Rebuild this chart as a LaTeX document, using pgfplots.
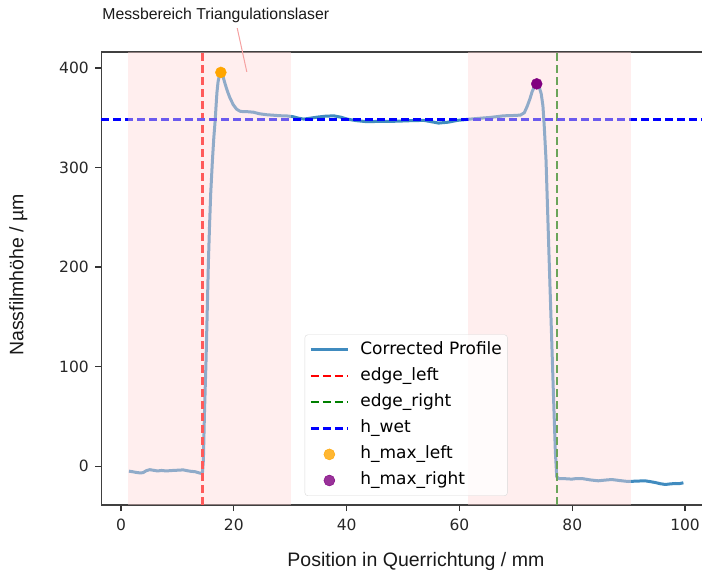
\documentclass[border=0pt]{standalone}
\usepackage{fontspec}
\setmainfont{Liberation Sans}
\newfontfamily\dejavu{DejaVu Sans}
\usepackage{pgfplots}
\pgfplotsset{compat=1.18}
\definecolor{tabblue}{RGB}{31,119,180}
\definecolor{shade}{RGB}{255,215,215}
\definecolor{annot}{RGB}{245,160,160}
\definecolor{mgreen}{RGB}{0,128,0}
\definecolor{morange}{RGB}{255,165,0}
\definecolor{mpurple}{RGB}{128,0,128}
\begin{document}
\begin{tikzpicture}
\begin{axis}[
  name=ax,
  scale only axis,
  width=609.7pt, height=453pt,
  xmin=-3.5, xmax=104.6, ymin=-39, ymax=416,
  xtick={0,20,40,60,80,100}, ytick={0,100,200,300,400},
  tick pos=left, tick align=outside,
  major tick length=6pt,
  tick style={line width=1.2pt, black!80},
  axis line style={line width=1.4pt, black!75},
  /pgf/number format/assume math mode=true,
  ticklabel style={font=\dejavu\fontsize{15.5}{18}\selectfont, black!85},
  xticklabel style={yshift=-4pt},
  yticklabel style={xshift=-3pt},
  xlabel={Position in Querrichtung / mm},
  ylabel={Nassfilmhöhe / µm},
  every axis x label/.style={at={(axis description cs:0.516,-0.1347)}, anchor=base,
     font=\fontsize{19.5}{22}\selectfont, black!90},
  every axis y label/.style={at={(axis description cs:-0.136,0.508)}, rotate=90, anchor=center,
     font=\fontsize{19.5}{22}\selectfont, black!90},
  clip=false,
  legend image code/.code={\draw[#1] (0pt,0pt) -- (37pt,0pt); \path (47pt,0pt);},
  legend style={at={(0.5,0.02)}, anchor=south,
    draw=black!15, rounded corners=3pt, fill=white, fill opacity=0.8, text opacity=1,
    font=\dejavu\fontsize{17}{20}\selectfont,
    inner xsep=4.5pt, inner ysep=6pt,
    nodes={inner sep=1pt, text height=12.5pt, text depth=4pt},
    row sep=7.6pt,
    cells={anchor=west}},
]
\addplot[tabblue, opacity=0.85, line width=3pt, line join=round] coordinates {
(1.4,-5) (2.0,-5.5) (2.7,-6.3) (3.4,-6.8) (3.9,-6.5) (4.5,-4.5) (5.1,-3.5) (5.8,-4.2)
(6.5,-4.8) (7.2,-4.3) (8.0,-4.8) (8.7,-4.5) (9.5,-4.2) (10.3,-4.0) (11.0,-3.7) (11.7,-4.5)
(12.4,-5.2) (13.1,-5.5) (13.8,-6.7) (14.2,-7.2)
(14.45,-6) (14.6,6) (14.8,55) (15.07,106) (15.3,160) (15.5,207) (15.7,243) (15.9,274)
(16.2,307) (16.45,330) (16.7,348) (16.85,362) (17.0,375) (17.2,386) (17.45,393) (17.7,395)
(17.95,393.5) (18.2,389) (18.5,383) (18.9,376) (19.3,370) (19.9,363) (20.5,358.5) (21.1,356.5)
(21.8,356) (22.5,356) (23.5,355.5) (24.5,354) (25.8,353) (27.0,352.5) (28.2,352) (29.4,351.8)
(30.5,351) (31.5,349.5) (32.4,348.6) (33.5,349.5) (34.8,350.6) (36.2,351.5) (37.7,351.9)
(39.0,350.5) (40.1,348.6) (41.8,347) (43.6,346) (45.7,346.3) (47.8,346.3) (49.5,346.6)
(51.3,347) (53.7,347.3) (55.0,346) (56.3,344.6) (58.0,345.5) (59.6,347.3) (61.9,348.6)
(63.7,349.5) (65.5,350.3) (67.8,351.9) (69.5,352.2) (70.8,352.6) (71.5,355) (72.0,361.3)
(72.5,369) (72.9,376.4) (73.3,381) (73.7,383.5) (74.1,381.5) (74.5,374) (74.8,362)
(75.05,340) (75.35,307.5) (76.0,190) (76.7,66) (77.0,15) (77.25,-10.7) (77.6,-12.4)
(78.8,-12.6) (79.9,-13) (80.8,-12.4) (81.7,-12.4) (83.2,-13.8) (84.6,-14.7) (85.8,-14)
(87,-13.4) (88.5,-14.5) (89.9,-15.4) (91.4,-15) (92.9,-14.7) (93.8,-15.5) (94.7,-16.4)
(95.6,-17.6) (96.5,-18.4) (97.4,-17.8) (98.3,-17.4) (99.0,-17.5) (99.7,-16.7)
};
\addlegendentry{Corrected Profile}
\addplot[red, line width=2.6pt, dash pattern=on 8pt off 4pt] coordinates {(14.4,-39) (14.4,416)};
\addlegendentry{edge\_left}
\addplot[mgreen, line width=2.6pt, dash pattern=on 8pt off 4pt] coordinates {(77.3,-39) (77.3,416)};
\addlegendentry{edge\_right}
\addplot[blue, line width=2.6pt, dash pattern=on 8pt off 4pt] coordinates {(-3.5,348.5) (104.6,348.5)};
\addlegendentry{h\_wet}
\addplot[only marks, mark=*, mark size=5.5pt, morange, mark options={draw=none, fill=morange},
  legend image code/.code={\fill[morange] (18.5pt,0pt) circle (5.5pt); \path (0pt,0pt) (47pt,0pt);}] coordinates {(17.7,395.5)};
\addlegendentry{h\_max\_left}
\addplot[only marks, mark=*, mark size=5.5pt, mpurple, mark options={draw=none, fill=mpurple},
  legend image code/.code={\fill[mpurple] (18.5pt,0pt) circle (5.5pt); \path (0pt,0pt) (47pt,0pt);}] coordinates {(73.7,384)};
\addlegendentry{h\_max\_right}
\addplot[draw=none, fill=shade, fill opacity=0.42, forget plot] coordinates {(1.3,-39) (30.2,-39) (30.2,416) (1.3,416)} -- cycle;
\addplot[draw=none, fill=shade, fill opacity=0.42, forget plot] coordinates {(61.6,-39) (90.4,-39) (90.4,416) (61.6,416)} -- cycle;
\draw[annot, line width=1pt] (axis cs:20.6,440) -- (axis cs:22.3,396);
\node[anchor=base, font=\fontsize{15.8}{18}\selectfont, black!90] at (axis cs:16.8,448.2) {Messbereich Triangulationslaser};
\end{axis}
\pgfresetboundingbox
\path[use as bounding box] ([xshift=-101.3pt,yshift=-66pt]ax.south west) rectangle ([xshift=600.7pt,yshift=52pt]ax.north west);
\end{tikzpicture}
\end{document}
